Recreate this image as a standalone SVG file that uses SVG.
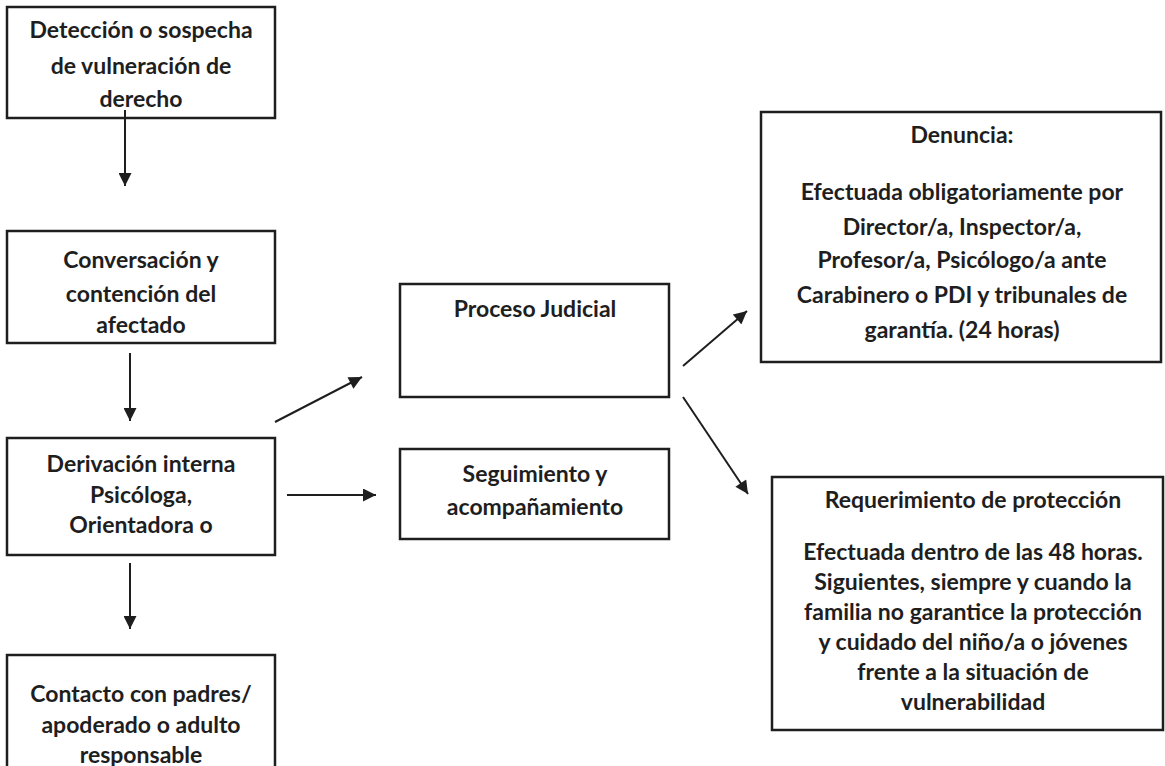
<svg xmlns="http://www.w3.org/2000/svg" width="1165" height="766" viewBox="0 0 1165 766">
<defs>
<style>
.box{fill:#fff;stroke:#1e1e1e;stroke-width:2.5}
.t{font-family:Lato,"Liberation Sans",sans-serif;font-weight:bold;font-size:23px;fill:#1e1e1e;text-anchor:middle}
.c{stroke:#1e1e1e;stroke-width:2;fill:none;marker-end:url(#ah)}
</style>
<marker id="ah" viewBox="0 0 10 10" refX="10" refY="5" markerWidth="14" markerHeight="13" markerUnits="userSpaceOnUse" orient="auto">
<path d="M0,0 L10,5 L0,10 z" fill="#1e1e1e"/>
</marker>
</defs>
<rect width="1165" height="766" fill="#fff"/>
<g id="n1">
<rect class="box" x="7" y="7" width="268" height="111"/>
<text class="t" x="141" y="38">Detección o sospecha</text>
<text class="t" x="141" y="74">de vulneración de</text>
<text class="t" x="141" y="107">derecho</text>
</g>
<g id="n2">
<rect class="box" x="7" y="231" width="268" height="112"/>
<text class="t" x="141" y="268">Conversación y</text>
<text class="t" x="141" y="302">contención del</text>
<text class="t" x="141" y="333">afectado</text>
</g>
<g id="n3">
<rect class="box" x="7" y="438" width="268" height="117"/>
<text class="t" x="141" y="472">Derivación interna</text>
<text class="t" x="141" y="503">Psicóloga,</text>
<text class="t" x="141" y="533">Orientadora o</text>
</g>
<g id="n4">
<rect class="box" x="7" y="655" width="268" height="120"/>
<text class="t" x="141" y="702">Contacto con padres/</text>
<text class="t" x="141" y="733">apoderado o adulto</text>
<text class="t" x="141" y="763">responsable</text>
</g>
<g id="n5">
<rect class="box" x="400" y="284" width="269" height="113"/>
<text class="t" x="535" y="317">Proceso Judicial</text>
</g>
<g id="n6">
<rect class="box" x="400" y="449" width="269" height="90"/>
<text class="t" x="535" y="482">Seguimiento y</text>
<text class="t" x="535" y="515">acompañamiento</text>
</g>
<g id="n7">
<rect class="box" x="761" y="112" width="400" height="250"/>
<text class="t" x="962" y="143">Denuncia:</text>
<text class="t" x="962" y="200">Efectuada obligatoriamente por</text>
<text class="t" x="962" y="235">Director/a, Inspector/a,</text>
<text class="t" x="962" y="268">Profesor/a, Psicólogo/a ante</text>
<text class="t" x="962" y="303">Carabinero o PDI y tribunales de</text>
<text class="t" x="962" y="338">garantía. (24 horas)</text>
</g>
<g id="n8">
<rect class="box" x="772" y="477" width="391" height="253"/>
<text class="t" x="973" y="508">Requerimiento de protección</text>
<text class="t" x="973" y="560">Efectuada dentro de las 48 horas.</text>
<text class="t" x="973" y="590">Siguientes, siempre y cuando la</text>
<text class="t" x="973" y="620">familia no garantice la protección</text>
<text class="t" x="973" y="650">y cuidado del niño/a o jóvenes</text>
<text class="t" x="973" y="680">frente a la situación de</text>
<text class="t" x="973" y="710">vulnerabilidad</text>
</g>
<g id="connectors">
<line class="c" x1="125" y1="110" x2="125" y2="186"/>
<line class="c" x1="130" y1="353" x2="130" y2="421"/>
<line class="c" x1="130" y1="563" x2="130" y2="629"/>
<line class="c" x1="275" y1="422" x2="362" y2="377"/>
<line class="c" x1="287" y1="495" x2="376" y2="495"/>
<line class="c" x1="683" y1="366" x2="747" y2="311"/>
<line class="c" x1="683" y1="397" x2="748" y2="494"/>
</g>
</svg>
